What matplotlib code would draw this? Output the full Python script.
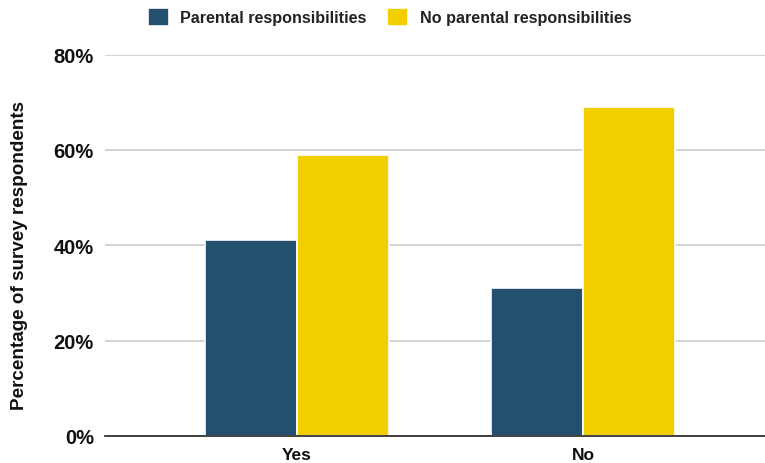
import numpy as np
import matplotlib.pyplot as plt

plt.rcParams['font.family'] = ['Liberation Sans', 'DejaVu Sans']

# Data
categories = ["Yes", "No"]
parental = [41, 31]
no_parental = [59, 69]
series_names = ["Parental responsibilities", "No parental responsibilities"]
y_ticks = [0, 20, 40, 60, 80]

blue = "#24506f"
yellow = "#f1ce00"

fig = plt.figure(figsize=(7.65, 4.64), dpi=100)
ax = fig.add_axes([105 / 765, 1 - 437 / 464, 660 / 765, (437 - 55.5) / 464])

x = np.arange(len(categories))
w = 0.322
ax.bar(x - w / 2, parental, w, color=blue, edgecolor="white", linewidth=1.2,
       label=series_names[0], zorder=3)
ax.bar(x + w / 2, no_parental, w, color=yellow, edgecolor="white", linewidth=1.2,
       label=series_names[1], zorder=3)

ax.set_xlim(-0.671, 1.636)
ax.set_ylim(0, 80)
ax.set_yticks(y_ticks)
ax.set_yticklabels([f"{v}%" for v in y_ticks])
ax.set_xticks(x)
ax.set_xticklabels(categories)

ax.grid(axis="y", color="#d3d3d3", linewidth=1.4, zorder=0)
ax.set_axisbelow(True)
for s in ["top", "right", "left"]:
    ax.spines[s].set_visible(False)
ax.spines["bottom"].set_color("#333333")
ax.spines["bottom"].set_linewidth(1.3)
ax.spines["bottom"].set_zorder(4)
ax.tick_params(axis="both", length=0, colors="#111111")
ax.tick_params(axis="y", pad=8, labelsize=14.5)
ax.tick_params(axis="x", pad=8, labelsize=12.5)
for lbl in ax.get_yticklabels() + ax.get_xticklabels():
    lbl.set_fontweight("bold")
ax.set_ylabel("Percentage of survey respondents", fontsize=13.6, fontweight="bold",
              color="#111111")
ax.yaxis.set_label_coords(-0.1165, 0.477)

fig.legend(loc="center", bbox_to_anchor=(389.5 / 765, 1 - 18 / 464), ncol=2, frameon=False,
           prop={"size": 11.6, "weight": "bold"}, handlelength=1.3, handleheight=1.3,
           handletextpad=0.7, columnspacing=1.3, labelcolor="#222222")

fig.savefig("out.png", dpi=100)
